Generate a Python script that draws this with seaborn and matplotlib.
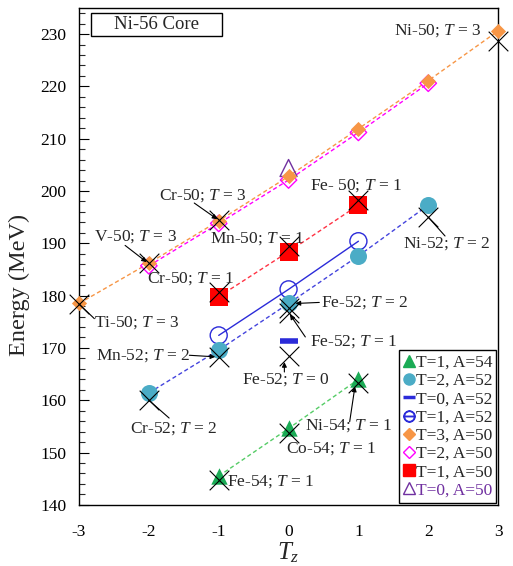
import matplotlib
matplotlib.use("Agg")
import matplotlib.pyplot as plt
from matplotlib.lines import Line2D
from matplotlib.patches import Rectangle
import seaborn as sns

sns.set_theme(style="ticks")
plt.rcParams['font.family'] = ['Liberation Serif', 'DejaVu Serif']
plt.rcParams['mathtext.fontset'] = 'custom'
plt.rcParams['mathtext.rm'] = 'Liberation Serif'
plt.rcParams['mathtext.it'] = 'Liberation Serif:italic'
plt.rcParams['axes.unicode_minus'] = False

# --- data ---
tz_a54 = [-1, 0, 1]
e_t1_a54 = [145.5, 154.6, 164.0]

tz_a52_t2 = [-2, -1, 0, 1, 2]
e_t2_a52 = [161.4, 169.6, 178.5, 187.6, 197.3]

tz_a52_t1 = [-1, 0, 1]
e_t1_a52 = [172.4, 181.2, 190.4]

tz_a52_t0 = [0]
e_t0_a52 = [171.3]

tz_a50_t3 = [-3, -2, -1, 0, 1, 2, 3]
e_t3_a50 = [178.5, 186.2, 194.3, 202.8, 211.9, 221.1, 230.6]

tz_a50_t2 = [-2, -1, 0, 1, 2]
e_t2_a50 = [185.7, 193.8, 202.1, 211.2, 220.6]

tz_a50_t1 = [-1, 0, 1]
e_t1_a50 = [179.8, 188.4, 197.3]

tz_a50_t0 = [0]
e_t0_a50 = [204.4]

# experimental values (black crosses)
tz_exp = [-3, -2, -1, -1, 0, 1, 3, -2, -1, 0, 0, 0, 2, -1, 0, 1]
e_exp = [178.4, 186.2, 194.4, 180.6, 189.4, 198.2, 228.7,
         160.0, 168.2, 176.6, 177.6, 168.4, 195.0, 144.8, 153.7, 163.3]

C_T1A54 = '#1aab55'
C_T2A52 = '#4bacc6'
C_BLUE = '#2b2bd9'
C_T3A50 = '#f79646'
C_T2A50 = '#ff00ff'
C_T1A50 = '#ff0000'
C_T0A50 = '#7030a0'

fig = plt.figure(figsize=(5.13, 5.66), dpi=100)
ax = fig.add_axes([0.154, 0.108, 0.817, 0.878])

dash = (0, (3, 2))
# connecting lines
sns.lineplot(x=tz_a54, y=e_t1_a54, color='#55cc66', lw=1, linestyle=dash, ax=ax)
sns.lineplot(x=tz_a52_t2, y=e_t2_a52, color='#4444dd', lw=1, linestyle=dash, ax=ax)
sns.lineplot(x=tz_a52_t1, y=e_t1_a52, color=C_BLUE, lw=1, ax=ax)
sns.lineplot(x=tz_a50_t3, y=e_t3_a50, color=C_T3A50, lw=1, linestyle=dash, ax=ax)
sns.lineplot(x=tz_a50_t2, y=e_t2_a50, color=C_T2A50, lw=1, linestyle=dash, ax=ax)
sns.lineplot(x=tz_a50_t1, y=e_t1_a50, color='#ff3344', lw=1, linestyle=dash, ax=ax)

# markers
kw = dict(ax=ax, zorder=3, clip_on=False)
sns.scatterplot(x=tz_a54, y=e_t1_a54, marker='^', s=140, color=C_T1A54, linewidth=0, **kw)
sns.scatterplot(x=tz_a52_t1, y=e_t1_a52, marker='o', s=150, facecolor='none', edgecolor=C_BLUE, linewidth=1, **kw)
sns.scatterplot(x=tz_a52_t2, y=e_t2_a52, marker='o', s=150, color=C_T2A52, linewidth=0, **kw)
sns.scatterplot(x=tz_a52_t0, y=e_t0_a52, marker='_', s=180, color=C_BLUE, linewidth=4, **kw)
sns.scatterplot(x=tz_a50_t0, y=e_t0_a50, marker='^', s=150, facecolor='none', edgecolor=C_T0A50, linewidth=1, **kw)
sns.scatterplot(x=tz_a50_t2, y=e_t2_a50, marker='D', s=70, facecolor='none', edgecolor=C_T2A50, linewidth=1, **kw)
sns.scatterplot(x=tz_a50_t3, y=e_t3_a50, marker='D', s=60, color=C_T3A50, linewidth=0, **kw)
sns.scatterplot(x=tz_a50_t1, y=e_t1_a50, marker='s', s=150, color=C_T1A50, linewidth=0, **kw)
sns.scatterplot(x=tz_exp, y=e_exp, marker='x', s=200, color='black', linewidth=0.8,
                ax=ax, zorder=4, clip_on=False)

# --- labels ---
fs = 12.5
def lab(x, y, s, ha='left'):
    ax.text(x, y, s, fontsize=fs, ha=ha, va='center', zorder=5)

def arr(x0, y0, x1, y1, head=True):
    ax.annotate('', xy=(x1, y1), xytext=(x0, y0),
                arrowprops=dict(arrowstyle='-|>' if head else '-', color='black', lw=0.8,
                                mutation_scale=7, shrinkA=0, shrinkB=0), zorder=5)

lab(2.77, 230.6, 'Ni-50; $T$ = 3', ha='right')
lab(0.30, 201.1, 'Fe- 50; $T$ = 1')
lab(1.64, 190.0, 'Ni-52; $T$ = 2')
arr(2.24, 191.4, 2.0, 195.0, head=False)
lab(-1.85, 199.2, 'Cr-50; $T$ = 3')
arr(-1.35, 197.7, -1.02, 194.6)
lab(-2.78, 191.3, 'V-50; $T$ = 3')
arr(-2.34, 189.6, -2.03, 186.4)
lab(-1.12, 190.9, 'Mn-50; $T$ = 1')
lab(-2.02, 183.3, 'Cr-50; $T$ = 1')
lab(-2.78, 174.8, 'Ti-50; $T$ = 3')
arr(-3.0, 178.4, -2.78, 175.6, head=False)
lab(-2.75, 168.6, 'Mn-52; $T$ = 2')
arr(-1.42, 168.6, -1.05, 168.3)
lab(-2.27, 154.6, 'Cr-52; $T$ = 2')
arr(-1.71, 156.6, -2.0, 160.0, head=False)
lab(0.46, 178.7, 'Fe-52; $T$ = 2')
arr(0.44, 178.7, 0.1, 178.5)
lab(0.30, 171.2, 'Fe-52; $T$ = 1')
arr(0.24, 172.1, 0.02, 176.4)
lab(-0.66, 163.9, 'Fe-52; $T$ = 0')
arr(-0.06, 165.4, -0.06, 167.3)
lab(0.23, 155.1, 'Ni-54; $T$ = 1')
arr(0.875, 155.9, 0.95, 162.6)
lab(-0.04, 150.7, 'Co-54; $T$ = 1')
lab(-0.875, 144.4, 'Fe-54; $T$ = 1')

# title box
ax.add_patch(Rectangle((0.029, 0.944), 0.312, 0.046, transform=ax.transAxes,
                       facecolor='white', edgecolor='black', lw=1, zorder=5))
ax.text(0.185, 0.967, 'Ni-56 Core', fontsize=13.5, ha='center', va='center',
        transform=ax.transAxes, zorder=6)

# --- axes ---
ax.set_xlim(-3, 3)
ax.set_ylim(140, 235)
ax.set_xticks([-3, -2, -1, 0, 1, 2, 3])
ax.set_yticks(range(140, 231, 10))
ax.set_yticks(range(140, 235, 2), minor=True)
ax.tick_params(axis='y', which='major', direction='in', length=7, width=0.8,
               labelsize=12.5, pad=9, colors='black')
ax.tick_params(axis='y', which='minor', direction='in', length=4, width=0.8, left=True)
ax.tick_params(axis='x', which='both', length=0, labelsize=12.5, pad=14, colors='black')
for sp in ax.spines.values():
    sp.set_color('black')
    sp.set_linewidth(1)
ax.set_xlabel('$T_z$', fontsize=18, labelpad=0)
ax.set_ylabel('Energy (MeV)', fontsize=17.5)
ax.yaxis.set_label_coords(-0.118, 0.443)

# --- legend ---
handles = [
    Line2D([], [], ls='none', marker='^', ms=8, color=C_T1A54, mec=C_T1A54),
    Line2D([], [], ls='none', marker='o', ms=8, color=C_T2A52, mec=C_T2A52),
    Line2D([], [], ls='none', marker='_', ms=8, mew=2.5, color=C_BLUE),
    Line2D([], [], ls='none', marker='$\\ominus$', ms=8, color=C_BLUE),
    Line2D([], [], ls='none', marker='D', ms=6, color=C_T3A50, mec=C_T3A50),
    Line2D([], [], ls='none', marker='D', ms=6, mfc='none', mec=C_T2A50, mew=1),
    Line2D([], [], ls='none', marker='s', ms=8, color=C_T1A50, mec=C_T1A50),
    Line2D([], [], ls='none', marker='^', ms=8, mfc='none', mec=C_T0A50, mew=1),
]
labels = ['T=1, A=54', 'T=2, A=52', 'T=0, A=52', 'T=1, A=52',
          'T=3, A=50', 'T=2, A=50', 'T=1, A=50', 'T=0, A=50']
leg = ax.legend(handles, labels, loc='lower right', bbox_to_anchor=(0.996, 0.004),
                fontsize=12.5, handlelength=0.6, handletextpad=0.1, labelspacing=0.12,
                borderpad=0.25, borderaxespad=0, frameon=True, fancybox=False,
                framealpha=1, edgecolor='black')
leg.get_frame().set_linewidth(1)
leg.get_texts()[-1].set_color(C_T0A50)

fig.savefig('out.png', dpi=100)
